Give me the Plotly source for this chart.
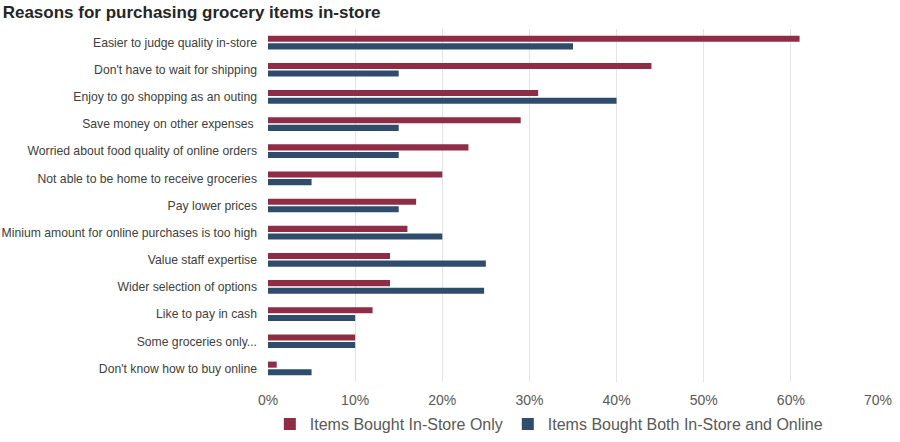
import plotly.graph_objects as go

categories = [
    "Easier to judge quality in-store",
    "Don't have to wait for shipping",
    "Enjoy to go shopping as an outing",
    "Save money on other expenses ",
    "Worried about food quality of online orders",
    "Not able to be home to receive groceries",
    "Pay lower prices",
    "Minium amount for online purchases is too high",
    "Value staff expertise",
    "Wider selection of options",
    "Like to pay in cash",
    "Some groceries only...",
    "Don't know how to buy online",
]
store_only = [61, 44, 31, 29, 23, 20, 17, 16, 14, 14, 12, 10, 1]
both = [35, 15, 40, 15, 15, 5, 15, 20, 25, 24.8, 10, 10, 5]
series_names = ["Items Bought In-Store Only", "Items Bought Both In-Store and Online"]
x_ticks = [0, 10, 20, 30, 40, 50, 60, 70]
x_tick_labels = ["0%", "10%", "20%", "30%", "40%", "50%", "60%", "70%"]

RED = "#8f2c46"
BLUE = "#2f4c6d"

fig = go.Figure()
fig.add_trace(go.Bar(y=categories, x=store_only, orientation="h", name=series_names[0],
                     marker=dict(color=RED, line=dict(width=0))))
fig.add_trace(go.Bar(y=categories, x=both, orientation="h", name=series_names[1],
                     marker=dict(color=BLUE, line=dict(width=0))))

fig.update_layout(
    width=900, height=442,
    margin=dict(l=268, r=22, t=29, b=60, autoexpand=False),
    paper_bgcolor="white", plot_bgcolor="white",
    barmode="group", bargap=0.44, bargroupgap=0.2,
    font=dict(family="Liberation Sans, Arial, sans-serif", color="#595959"),
    title=dict(text="<b>Reasons for purchasing grocery items in-store</b>",
               x=0.003, xanchor="left", y=0.972, yanchor="middle",
               font=dict(size=17, color="#262626", family="Liberation Sans, Arial, sans-serif")),
    xaxis=dict(range=[0, 70], tickvals=x_ticks, ticktext=x_tick_labels, automargin=False,
               showgrid=True, gridcolor="#e4e4e4", gridwidth=1, zeroline=False,
               showline=False, ticks="", ticklabelstandoff=8,
               tickfont=dict(size=14, color="#595959")),
    yaxis=dict(autorange="reversed", showgrid=False, ticks="", showline=False, automargin=False,
               ticklabelstandoff=10, tickfont=dict(size=12.2, color="#404040")),
    legend=dict(orientation="h", x=0.003, xanchor="left", y=-0.119, yanchor="middle",
                font=dict(size=16, color="#595959"), itemwidth=30, traceorder="normal"),
    showlegend=True,
)

fig.write_html("out.html")
